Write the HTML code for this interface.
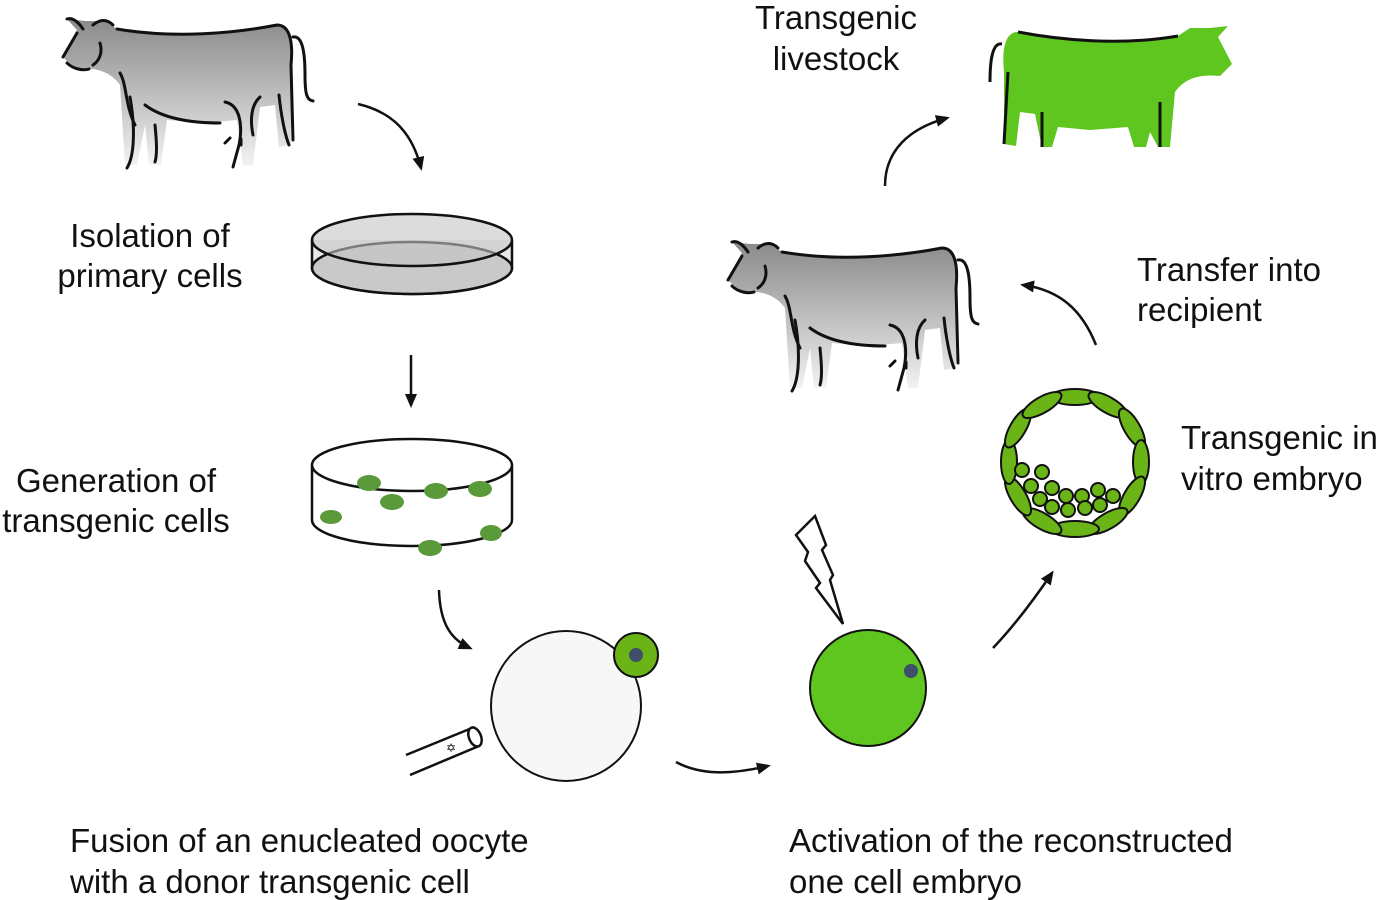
<!DOCTYPE html>
<html><head><meta charset="utf-8"><style>
html,body{margin:0;padding:0;background:#fff;}
svg{display:block;}
text{font-family:"Liberation Sans",Arial,sans-serif;font-size:33px;fill:#111;}
</style></head><body>
<svg width="1384" height="900" viewBox="0 0 1384 900" xmlns="http://www.w3.org/2000/svg">
<defs>
<linearGradient id="gc" x1="0" y1="0" x2="0" y2="1">
<stop offset="0" stop-color="#8a8a8c"/><stop offset="0.6" stop-color="#c8c6c6"/><stop offset="1" stop-color="#f2f2f2"/></linearGradient>
<marker id="ah" markerWidth="14" markerHeight="14" refX="11" refY="7" orient="auto" markerUnits="userSpaceOnUse"><path d="M0,1 L14,7 L0,13 Z" fill="#111"/></marker>
<g id="cow">
<path d="M8,52 L22,25 L12,14 L30,16 L50,16 L62,24 C120,34 180,28 222,20 C236,20 238,40 236,60 L236,140 L224,142 L220,100 L205,102 L198,160 L188,160 L182,115 L150,118 L112,115 L106,160 L94,160 L90,120 L82,160 L70,160 L65,80 C55,66 40,62 20,64 Z" fill="url(#gc)"/>
<g fill="none" stroke="#111" stroke-width="3" stroke-linecap="round">
<path d="M8,52 L22,28"/><path d="M12,14 C18,12 24,18 28,24"/><path d="M38,20 C45,14 52,14 58,20"/><path d="M45,38 C48,48 44,56 38,60"/><path d="M12,58 C18,64 28,66 34,64"/>
<path d="M62,24 C120,34 180,28 222,20 C236,20 238,40 236,60 L238,135"/>
<path d="M238,32 C248,30 250,50 250,70 C250,90 252,95 258,96"/>
<path d="M65,68 C72,80 70,100 80,120"/><path d="M75,92 C80,120 80,150 72,163"/>
<path d="M90,100 C110,115 140,118 165,118"/><path d="M100,120 C102,140 102,150 100,157"/>
<path d="M170,97 C185,100 188,120 184,140 L178,162"/><path d="M205,92 C196,100 195,115 198,130"/>
<path d="M224,90 C226,110 230,130 234,140"/><path d="M175,133 L170,138"/><path d="M186,134 L186,140"/>
</g></g>
</defs>

<use href="#cow" transform="translate(55,5)"/>
<use href="#cow" transform="translate(720,228)"/>
<g transform="translate(1240,12)">
<g transform="scale(-1,1)">
<path d="M8,52 L22,25 L12,14 L30,16 L50,16 L62,24 C120,34 180,28 222,20 C236,20 238,40 236,60 L236,132 L224,134 L220,100 L205,102 L198,135 L188,135 L182,115 L150,118 L112,115 L106,135 L94,135 L90,120 L82,135 L70,135 L65,80 C55,66 40,62 20,64 Z" fill="#5fc61f"/>
<g fill="none" stroke="#111" stroke-width="3"><path d="M62,24 C120,34 180,28 222,20"/><path d="M238,32 C248,30 250,50 250,70"/><path d="M80,90 L80,135"/><path d="M198,100 L198,135"/><path d="M232,60 L236,132"/></g>
</g></g>

<g stroke="#111" stroke-width="2.5">
<path d="M312,240 L312,268 A100,26 0 0 0 512,268 L512,240" fill="#e8e8e8"/>
<ellipse cx="412" cy="268" rx="100" ry="26" fill="#c9c9c9"/>
<ellipse cx="412" cy="240" rx="100" ry="26" fill="#c4c4c4" fill-opacity="0.6"/>
</g>
<g stroke="#111" stroke-width="2.5" fill="#fff">
<path d="M312,465 L312,520 A100,26 0 0 0 512,520 L512,465"/>
<ellipse cx="412" cy="465" rx="100" ry="26"/>
</g>
<g fill="#5a9a3a">
<ellipse cx="369" cy="483" rx="12" ry="8"/><ellipse cx="392" cy="502" rx="12" ry="8"/><ellipse cx="436" cy="491" rx="12" ry="8"/><ellipse cx="480" cy="489" rx="12" ry="8"/><ellipse cx="331" cy="517" rx="11" ry="7"/><ellipse cx="430" cy="548" rx="12" ry="8"/><ellipse cx="491" cy="533" rx="11" ry="8"/>
</g>

<circle cx="566" cy="706" r="75" fill="#f7f7f7" stroke="#111" stroke-width="2"/>
<circle cx="636" cy="655" r="22" fill="#6ab417" stroke="#111" stroke-width="2"/>
<circle cx="636" cy="655" r="7" fill="#3f4f6a"/>
<g stroke="#111" stroke-width="2.5" fill="none">
<path d="M406,755 L472,728"/><path d="M410,775 L479,746"/><ellipse cx="475" cy="737" rx="6" ry="10" transform="rotate(-22 475 737)" fill="#fff"/>
<text x="446" y="752" style="font-size:12px" stroke="none" fill="#111">✡</text>
</g>

<circle cx="868" cy="688" r="58" fill="#5fc61f" stroke="#111" stroke-width="2"/>
<circle cx="911" cy="671" r="7" fill="#3f4f6a"/>
<path d="M815,516 L796,535 L808,552 L805,561 L820,583 L816,588 L843,624 L830,580 L833,575 L822,550 L826,545 Z" fill="#fff" stroke="#111" stroke-width="2.5"/>

<g stroke="#111" stroke-width="2" fill="#6ab417">
<circle cx="1075" cy="463" r="72" fill="#fff"/>
<ellipse cx="1075" cy="397" rx="24" ry="8"/>
<ellipse cx="1108" cy="405" rx="22" ry="8" transform="rotate(30 1108 405)"/>
<ellipse cx="1132" cy="428" rx="22" ry="8" transform="rotate(60 1132 428)"/>
<ellipse cx="1141" cy="462" rx="22" ry="8" transform="rotate(90 1141 462)"/>
<ellipse cx="1132" cy="496" rx="22" ry="8" transform="rotate(120 1132 496)"/>
<ellipse cx="1108" cy="521" rx="22" ry="8" transform="rotate(150 1108 521)"/>
<ellipse cx="1075" cy="529" rx="24" ry="8"/>
<ellipse cx="1042" cy="521" rx="22" ry="8" transform="rotate(30 1042 521)"/>
<ellipse cx="1018" cy="496" rx="22" ry="8" transform="rotate(60 1018 496)"/>
<ellipse cx="1009" cy="462" rx="22" ry="8" transform="rotate(90 1009 462)"/>
<ellipse cx="1018" cy="428" rx="22" ry="8" transform="rotate(120 1018 428)"/>
<ellipse cx="1042" cy="405" rx="22" ry="8" transform="rotate(150 1042 405)"/>
<circle cx="1022" cy="470" r="7"/><circle cx="1042" cy="472" r="7"/><circle cx="1031" cy="486" r="7"/><circle cx="1052" cy="488" r="7"/>
<circle cx="1040" cy="499" r="7"/><circle cx="1066" cy="496" r="7"/><circle cx="1052" cy="507" r="7"/><circle cx="1082" cy="496" r="7"/>
<circle cx="1068" cy="510" r="7"/><circle cx="1098" cy="490" r="7"/><circle cx="1085" cy="508" r="7"/><circle cx="1113" cy="496" r="7"/><circle cx="1100" cy="505" r="7"/>
</g>

<g stroke="#111" stroke-width="2.5" fill="none" marker-end="url(#ah)">
<path d="M358,104 C392,112 412,132 421,168"/>
<path d="M411,355 L411,405"/>
<path d="M439,590 C440,625 452,640 470,648"/>
<path d="M676,762 C700,775 730,775 768,766"/>
<path d="M993,648 C1015,625 1035,598 1052,573"/>
<path d="M1096,345 C1082,310 1060,290 1023,285"/>
<path d="M885,186 C885,150 910,128 947,118"/>
</g>

<text x="150" y="247" text-anchor="middle">Isolation of</text>
<text x="150" y="287" text-anchor="middle">primary cells</text>
<text x="116" y="492" text-anchor="middle">Generation of</text>
<text x="116" y="532" text-anchor="middle">transgenic cells</text>
<text x="70" y="852">Fusion of an enucleated oocyte</text>
<text x="70" y="893">with a donor transgenic cell</text>
<text x="789" y="852">Activation of the reconstructed</text>
<text x="789" y="893">one cell embryo</text>
<text x="1181" y="449">Transgenic in</text>
<text x="1181" y="490">vitro embryo</text>
<text x="1137" y="281">Transfer into</text>
<text x="1137" y="321">recipient</text>
<text x="836" y="29" text-anchor="middle">Transgenic</text>
<text x="836" y="70" text-anchor="middle">livestock</text>
</svg>
</body></html>
